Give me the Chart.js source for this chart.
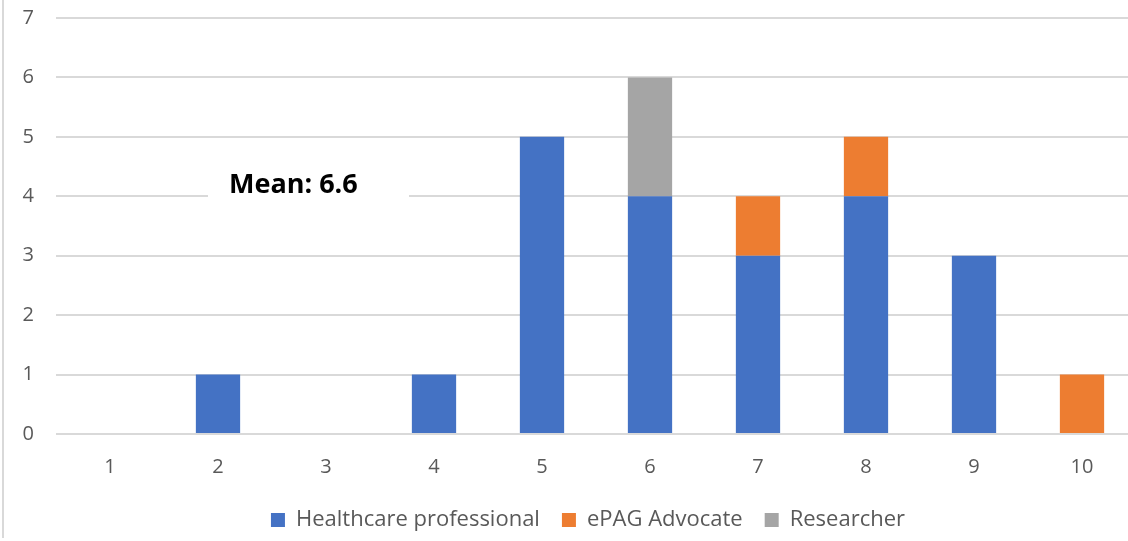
<!DOCTYPE html>
<html>
<head>
<meta charset="utf-8">
<script src="https://cdn.jsdelivr.net/npm/chart.js@4.4.1/dist/chart.umd.min.js"></script>
<style>
  html, body { margin: 0; padding: 0; background: #ffffff; overflow: hidden; }
  #wrap { position: absolute; left: 0; top: 0; width: 1136px; height: 541px; }
</style>
</head>
<body>
<div id="wrap"><canvas id="chart" width="1136" height="541"></canvas></div>
<script>
// Score categories along the x axis
const scores = ['1', '2', '3', '4', '5', '6', '7', '8', '9', '10'];

// Respondent counts per score, by role
const healthcareProfessional = [0, 1, 0, 1, 5, 4, 3, 4, 3, 0];
const epagAdvocate           = [0, 0, 0, 0, 0, 0, 1, 1, 0, 1];
const researcher             = [0, 0, 0, 0, 0, 2, 0, 0, 0, 0];

// Y axis ticks
const yTicks = [0, 1, 2, 3, 4, 5, 6, 7];

const meanLabel = 'Mean: 6.6';

const labelColor = '#595959';
const gridColor = '#d9d9d9';
const tickFont = { family: 'Open Sans', size: 20 };
const legendFont = { family: 'Open Sans', size: 22 };

// Frame line on the left edge, legend nudge and the boxed mean caption
const decorations = {
  id: 'decorations',
  afterLayout(chart) {
    const lg = chart.legend;
    if (lg) { lg.left -= 8; lg.right -= 8; }
  },
  beforeDraw(chart) {
    const ctx = chart.ctx;
    ctx.save();
    ctx.fillStyle = '#ffffff';
    ctx.fillRect(0, 0, chart.width, chart.height);
    ctx.strokeStyle = gridColor;
    ctx.lineWidth = 2;
    ctx.beginPath();
    ctx.moveTo(3, 0);
    ctx.lineTo(3, 538);
    ctx.stroke();
    ctx.restore();
  },
  afterDatasetsDraw(chart) {
    const ctx = chart.ctx;
    ctx.save();
    ctx.fillStyle = '#ffffff';
    ctx.fillRect(208, 166, 201, 36);
    ctx.fillStyle = '#000000';
    ctx.font = 'bold 27px "Open Sans"';
    ctx.textAlign = 'left';
    ctx.textBaseline = 'alphabetic';
    ctx.fillText(meanLabel, 229, 193);
    ctx.restore();
  }
};

new Chart(document.getElementById('chart'), {
  type: 'bar',
  data: {
    labels: scores,
    datasets: [
      { label: 'Healthcare professional', data: healthcareProfessional, backgroundColor: '#4472c4' },
      { label: 'ePAG Advocate', data: epagAdvocate, backgroundColor: '#ed7d31' },
      { label: 'Researcher', data: researcher, backgroundColor: '#a5a5a5' }
    ]
  },
  options: {
    responsive: false,
    animation: false,
    layout: { padding: { top: 18, right: 0, bottom: 0, left: 0 } },
    datasets: {
      bar: { barPercentage: 0.41, categoryPercentage: 1.0 }
    },
    plugins: {
      legend: {
        position: 'bottom',
        fullSize: false,
        labels: {
          color: labelColor,
          font: legendFont,
          boxWidth: 14,
          boxHeight: 14,
          padding: 22
        }
      },
      tooltip: { enabled: false }
    },
    scales: {
      x: {
        stacked: true,
        grid: { display: false, drawTicks: false },
        border: { display: false },
        ticks: { color: labelColor, font: tickFont, padding: 21, maxRotation: 0 },
        afterFit(scale) { scale.height = 53; }
      },
      y: {
        stacked: true,
        min: 0,
        max: 7,
        afterBuildTicks(scale) { scale.ticks = yTicks.map(v => ({ value: v })); },
        grid: { color: gridColor, lineWidth: 2, drawTicks: false },
        border: { display: false },
        ticks: { color: labelColor, font: tickFont, padding: 22 },
        afterFit(scale) {
          scale.width = 56;
          scale.paddingTop = 0;
          scale.paddingBottom = 0;
        }
      }
    }
  },
  plugins: [decorations]
});
</script>
</body>
</html>
